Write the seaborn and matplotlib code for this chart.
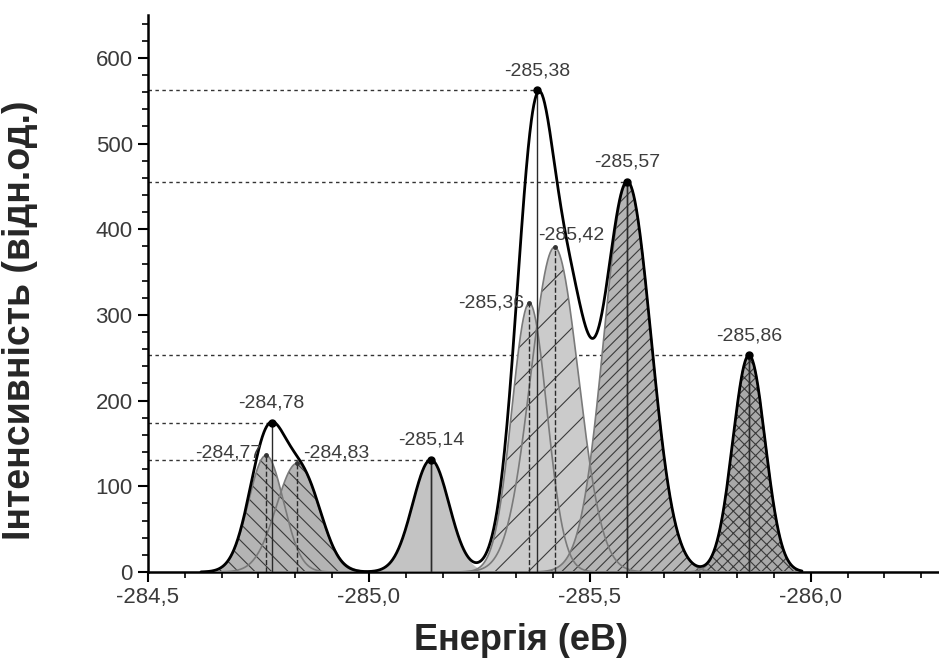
import numpy as np
import pandas as pd
import matplotlib
matplotlib.use("Agg")
import matplotlib.pyplot as plt
import seaborn as sns
from matplotlib.ticker import MultipleLocator, AutoMinorLocator, FuncFormatter

# envelope: sub-peaks (centre eV, height, width eV)
env_centers = [-284.772, -284.855, -285.14, -285.381, -285.465, -285.585, -285.86]
env_heights = [160, 100, 131, 545, 210, 455, 253]
env_widths = [0.0407, 0.0407, 0.0412, 0.0452, 0.0361, 0.0531, 0.0365]

# fitted components (shaded peaks)
comp_centers = [-284.767, -284.838, -285.14, -285.42, -285.363, -285.585, -285.86]
comp_heights = [136, 127, 131, 379, 314, 455, 253]
comp_widths = [0.0395, 0.0474, 0.0412, 0.054, 0.0395, 0.0531, 0.0365]
comp_labels = ["-284,77", "-284,83", "", "-285,42", "-285,36", "", ""]

# marked maxima of the envelope
max_pos = [-284.78, -285.14, -285.38, -285.585, -285.86]
max_val = [174, 131, 562, 455, 253]
max_labels = ["-284,78", "-285,14", "-285,38", "-285,57", "-285,86"]

# look of each component
comp_fill = ["#b4b4b4", "#b4b4b4", "#c3c3c3", "#cbcbcb", "#cbcbcb", "#b5b5b5", "#a9a9a9"]
comp_hatch = ["\\\\", "\\\\", "", "/", "/", "///", "xxx"]
comp_vstyle = ["--", "--", "-", "--", "--", "-", "-"]

NUM = ["Liberation Sans", "DejaVu Sans"]
BOLD = ["Liberation Sans Narrow", "Liberation Sans", "DejaVu Sans"]

sns.set_theme(style="ticks")
plt.rcParams["hatch.linewidth"] = 0.8
plt.rcParams["font.family"] = NUM

x = np.linspace(-284.62, -285.98, 1500)


def gauss(c, h, w):
    return h * np.exp(-((x - c) ** 2) / (2 * w ** 2))


env = sum(gauss(c, h, w) for c, h, w in zip(env_centers, env_heights, env_widths))
df = pd.DataFrame({"energy": x, "intensity": env})

fig = plt.figure(figsize=(9.39, 6.68), dpi=100)
ax = fig.add_axes([148 / 939, 1 - 572 / 668, 791 / 939, 557 / 668])

# dotted guide lines from the axis to each maximum
for p, v in zip(max_pos, max_val):
    ax.plot([-284.5, p], [v, v], ls=(0, (2.5, 2.5)), lw=1.0, color="#333333", zorder=1)

# component fills + hatches
for c, h, w, fc, ht in zip(comp_centers, comp_heights, comp_widths, comp_fill, comp_hatch):
    y = gauss(c, h, w)
    ax.fill_between(x, 0, y, facecolor=fc, edgecolor="none", lw=0, zorder=2)
    if ht:
        ax.fill_between(x, 0, y, facecolor="none", edgecolor="#3a3a3a", hatch=ht, lw=0, zorder=2)
for i, (c, h, w) in enumerate(zip(comp_centers, comp_heights, comp_widths)):
    if i == 2:
        continue
    ax.plot(x, gauss(c, h, w), color="#7a7a7a", lw=1.2, zorder=3)

# centre lines
for c, h, st in zip(comp_centers, comp_heights, comp_vstyle):
    ax.vlines(c, 0, h, colors="#2a2a2a", linestyles=st, lw=1.0, zorder=4)
for p, v in zip(max_pos, max_val):
    ax.vlines(p, 0, v, colors="#2a2a2a", lw=1.0, zorder=4)

# envelope
sns.lineplot(data=df, x="energy", y="intensity", color="black", lw=2.0, ax=ax, zorder=5)

ax.plot(max_pos, max_val, "o", color="black", ms=5, zorder=6)
ax.plot([comp_centers[i] for i in (0, 1, 3, 4)], [comp_heights[i] for i in (0, 1, 3, 4)],
        "o", color="#333333", ms=2.5, zorder=6)

# peak labels
lab_kw = dict(fontsize=14, color="#3c3c3c", zorder=7)
for p, v, t in zip(max_pos, max_val, max_labels):
    ax.annotate(t, (p, v), xytext=(0, 8), textcoords="offset points", ha="center", va="bottom", **lab_kw)
ax.annotate(comp_labels[0], (comp_centers[0], comp_heights[0]), xytext=(-3, 2),
            textcoords="offset points", ha="right", va="center", **lab_kw)
ax.annotate(comp_labels[1], (comp_centers[1], comp_heights[1]), xytext=(4, 7),
            textcoords="offset points", ha="left", va="center", **lab_kw)
ax.annotate(comp_labels[4], (comp_centers[4], comp_heights[4]), xytext=(-4, 0),
            textcoords="offset points", ha="right", va="center", **lab_kw)
ax.annotate(comp_labels[3], (comp_centers[3], comp_heights[3]), xytext=(12, 9),
            textcoords="offset points", ha="center", va="center", **lab_kw)

# axes
ax.set_xlim(-284.5, -286.29)
ax.set_ylim(0, 650)
ax.xaxis.set_major_locator(MultipleLocator(0.5))
ax.xaxis.set_minor_locator(AutoMinorLocator(6))
ax.yaxis.set_major_locator(MultipleLocator(100))
ax.yaxis.set_minor_locator(AutoMinorLocator(5))
ax.xaxis.set_major_formatter(FuncFormatter(lambda v, _: f"{v:.1f}".replace(".", ",")))
ax.yaxis.set_major_formatter(FuncFormatter(lambda v, _: f"{v:.0f}"))
ax.tick_params(which="major", direction="out", length=7, width=1.5, labelsize=16,
               labelcolor="#3a3a3a", color="black", pad=4)
ax.tick_params(which="minor", direction="out", length=4, width=1.2, color="black")
for s in ("top", "right"):
    ax.spines[s].set_visible(False)
for s in ("left", "bottom"):
    ax.spines[s].set_linewidth(1.8)
    ax.spines[s].set_color("black")
ax.grid(False)

ax.set_xlabel("Енергія (еВ)", fontsize=26, fontweight="bold", family=BOLD)
ax.set_ylabel("Інтенсивність (відн.од.)", fontsize=27, fontweight="bold", family=BOLD)
ax.xaxis.set_label_coords((521 - 148) / 791, -0.092)
ax.yaxis.set_label_coords((38 - 148) / 791, 0.452)

fig.savefig("out.png", dpi=100)
